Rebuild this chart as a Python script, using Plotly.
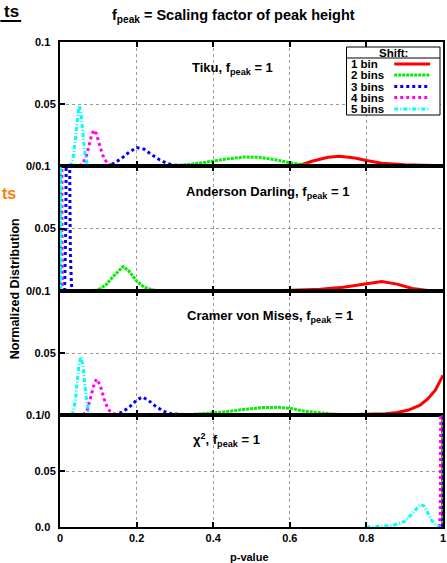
import plotly.graph_objects as go
from plotly.subplots import make_subplots

# ---------------- data ----------------
series_names = ["1 bin", "2 bins", "3 bins", "4 bins", "5 bins"]
colors = ["#ff0000", "#00ee00", "#0000ff", "#ff00ff", "#00ffff"]
dashes = ["solid", "3px,1px", "dot", "dot", "4px,2px,1px,2px"]
panel_titles = ["Tiku, f<sub>peak</sub> = 1",
                "Anderson Darling, f<sub>peak</sub> = 1",
                "Cramer von Mises, f<sub>peak</sub> = 1",
                "\u03c7<sup>2</sup>, f<sub>peak</sub> = 1"]
x_ticks = [0, 0.2, 0.4, 0.6, 0.8, 1]
x_tick_labels = ["0", "0.2", "0.4", "0.6", "0.8", "1"]

# Tiku
tiku_x = [
    [0.6, 0.63, 0.66, 0.7, 0.73, 0.77, 0.8, 0.84, 0.9, 0.95, 1.0],
    [0.28, 0.33, 0.38, 0.43, 0.48, 0.52, 0.56, 0.6, 0.64, 0.68],
    [0.12, 0.14, 0.16, 0.18, 0.2, 0.22, 0.24, 0.26, 0.28, 0.3, 0.33],
    [0.05, 0.06, 0.07, 0.08, 0.088, 0.095, 0.105, 0.115, 0.125, 0.14],
    [0.025, 0.03, 0.035, 0.04, 0.045, 0.05, 0.055, 0.06, 0.065, 0.07, 0.075, 0.08],
]
tiku_y = [
    [0, 0.001, 0.004, 0.007, 0.0078, 0.0065, 0.0045, 0.0022, 0.001, 0.0005, 0.0002],
    [0, 0.001, 0.003, 0.0055, 0.0072, 0.007, 0.0052, 0.0026, 0.0008, 0],
    [0, 0.002, 0.006, 0.011, 0.0148, 0.0135, 0.009, 0.005, 0.002, 0.0007, 0],
    [0, 0.002, 0.009, 0.022, 0.029, 0.026, 0.015, 0.006, 0.002, 0],
    [0, 0.002, 0.008, 0.022, 0.04, 0.049, 0.042, 0.025, 0.01, 0.003, 0.0005, 0],
]

# Anderson Darling
ad_x = [
    [0.55, 0.62, 0.68, 0.74, 0.8, 0.84, 0.88, 0.92, 0.96, 1.0],
    [0.08, 0.1, 0.12, 0.14, 0.165, 0.18, 0.2, 0.22, 0.24, 0.26],
    [0.012, 0.015, 0.018, 0.021, 0.024, 0.027, 0.03, 0.033],
    [0.001, 0.002, 0.003, 0.004, 0.005, 0.006],
    [0.0, 0.0005, 0.001, 0.0015, 0.002],
]
ad_y = [
    [0, 0.0005, 0.0015, 0.003, 0.0058, 0.0075, 0.0055, 0.002, 0.0004, 0],
    [0, 0.001, 0.005, 0.012, 0.0195, 0.016, 0.008, 0.003, 0.001, 0],
    [0, 0.05, 0.2, 0.25, 0.15, 0.03, 0.005, 0],
    [0, 0.3, 0.5, 0.4, 0.05, 0],
    [0, 0.5, 0.6, 0.3, 0],
]

# Cramer von Mises
cvm_x = [
    [0.72, 0.8, 0.85, 0.88, 0.91, 0.94, 0.96, 0.98, 0.99, 1.0],
    [0.33, 0.38, 0.43, 0.48, 0.53, 0.57, 0.6, 0.64, 0.68, 0.72, 0.77],
    [0.14, 0.16, 0.18, 0.2, 0.215, 0.23, 0.25, 0.27, 0.29, 0.32, 0.35],
    [0.06, 0.07, 0.08, 0.09, 0.096, 0.105, 0.115, 0.125, 0.135, 0.15],
    [0.03, 0.035, 0.04, 0.045, 0.05, 0.055, 0.06, 0.065, 0.07, 0.075, 0.085],
]
cvm_y = [
    [0, 0.0003, 0.001, 0.002, 0.004, 0.008, 0.013, 0.02, 0.026, 0.032],
    [0, 0.001, 0.0025, 0.0045, 0.006, 0.0062, 0.0054, 0.003, 0.0015, 0.0006, 0],
    [0, 0.002, 0.006, 0.012, 0.0145, 0.012, 0.007, 0.003, 0.001, 0.0002, 0],
    [0, 0.003, 0.014, 0.026, 0.029, 0.024, 0.013, 0.005, 0.0015, 0],
    [0, 0.003, 0.012, 0.028, 0.042, 0.047, 0.04, 0.024, 0.01, 0.003, 0],
]

# chi-square
chi_x = [
    [0.999, 1.0],
    [0.999, 1.0],
    [0.999, 1.0],
    [0.99, 0.993, 0.995, 0.997, 1.0],
    [0.8, 0.84, 0.87, 0.9, 0.92, 0.94, 0.95, 0.96, 0.97, 0.98, 0.99],
]
chi_y = [
    [0, 0.5],
    [0, 0.5],
    [0, 0.5],
    [0, 0.01, 0.2, 0.4, 0.5],
    [0, 0.0005, 0.0015, 0.005, 0.012, 0.02, 0.019, 0.013, 0.006, 0.002, 0.0005],
]

panels_x = [tiku_x, ad_x, cvm_x, chi_x]
panels_y = [tiku_y, ad_y, cvm_y, chi_y]

# ---------------- figure ----------------
W, H = 447, 563
ML, MR, MT, MB = 60, 2, 42, 36
fig = make_subplots(rows=4, cols=1, shared_xaxes=True, vertical_spacing=0,
                    row_heights=[124, 125, 124, 112])

for r in range(4):
    for k in range(5):
        fig.add_trace(go.Scatter(
            x=panels_x[r][k], y=panels_y[r][k], mode="lines",
            line=dict(color=colors[k], width=3, dash=dashes[k]),
            showlegend=False, name=series_names[k]), row=r + 1, col=1)

FONT = "Liberation Sans"
tickfont = dict(family=FONT, size=11, color="black", weight="bold")

for r in range(1, 5):
    fig.update_yaxes(range=[0, 0.1], tickvals=[0.05], ticktext=["0.05"],
                     showline=True, mirror=True, linewidth=2, linecolor="black",
                     ticks="inside", ticklen=5, tickwidth=2, tickcolor="black",
                     showgrid=True, gridcolor="#999999", griddash="dot", gridwidth=1,
                     zeroline=False, tickfont=tickfont, row=r, col=1)
    fig.update_xaxes(range=[0, 1], tickvals=x_ticks, ticktext=x_tick_labels,
                     showline=True, mirror="allticks", linewidth=2, linecolor="black",
                     ticks="inside", ticklen=5, tickwidth=2, tickcolor="black",
                     showgrid=True, gridcolor="#999999", griddash="dot", gridwidth=1,
                     zeroline=False, tickfont=tickfont,
                     showticklabels=(r == 4), row=r, col=1)


def px(xp):
    return (xp - ML) / (W - ML - MR)


def py(yp):
    return (H - MB - yp) / (H - MT - MB)


ann = []
# boundary labels on the y axis
for lab, yp in [("0.1", 42), ("0/0.1", 166), ("0/0.1", 291), ("0.1/0", 415), ("0.0", 527)]:
    ann.append(dict(text=lab, x=px(52), y=py(yp), xref="paper", yref="paper",
                    xanchor="right", yanchor="middle", showarrow=False, font=tickfont))

# panel titles (right edges)
ptf = dict(family=FONT, size=13, color="black", weight="bold")
for t, (rx, cy) in zip(panel_titles, [(276, 68), (353, 192), (357, 316), (263, 440)]):
    ann.append(dict(text=t, x=px(rx), y=py(cy), xref="paper", yref="paper",
                    xanchor="right", yanchor="middle", showarrow=False, font=ptf))

# main title
ann.append(dict(text="f<sub>peak</sub> = Scaling factor of peak height", x=px(234), y=py(16),
                xref="paper", yref="paper", xanchor="center", yanchor="middle",
                showarrow=False, font=dict(family=FONT, size=14.5, color="black", weight="bold")))
# axis titles
ann.append(dict(text="Normalized Distribution", x=px(15), y=py(289), xref="paper", yref="paper",
                textangle=-90, xanchor="center", yanchor="middle", showarrow=False,
                font=dict(family=FONT, size=12.5, color="black", weight="bold")))
ann.append(dict(text="p-value", x=px(250), y=py(557), xref="paper", yref="paper",
                xanchor="center", yanchor="middle", showarrow=False,
                font=dict(family=FONT, size=11, color="black", weight="bold")))
# texts at the left edge
ann.append(dict(text="ts", x=px(21), y=py(11), xref="paper", yref="paper",
                xanchor="right", yanchor="middle", showarrow=False,
                font=dict(family=FONT, size=17, color="black", weight="bold")))
ann.append(dict(text="ts", x=px(0), y=py(193), xref="paper", yref="paper",
                xanchor="left", yanchor="middle", showarrow=False,
                font=dict(family=FONT, size=16, color="#ff8000", weight="bold")))

shapes = [dict(type="line", xref="paper", yref="paper", x0=px(0), x1=px(21),
               y0=py(21), y1=py(21), line=dict(color="black", width=2))]

# custom legend
lf = dict(family=FONT, size=11.5, color="black", weight="bold")
shapes.append(dict(type="rect", xref="paper", yref="paper", x0=px(348), x1=px(442),
                   y0=py(115), y1=py(47), line=dict(color="black", width=1), fillcolor="white"))
shapes.append(dict(type="line", xref="paper", yref="paper", x0=px(348), x1=px(442),
                   y0=py(58), y1=py(58), line=dict(color="black", width=1)))
ann.append(dict(text="Shift:", x=px(395), y=py(52.5), xref="paper", yref="paper",
                xanchor="center", yanchor="middle", showarrow=False, font=lf))
for k, yp in enumerate([64, 75, 86.5, 97.5, 109]):
    ann.append(dict(text=series_names[k], x=px(351), y=py(yp), xref="paper", yref="paper",
                    xanchor="left", yanchor="middle", showarrow=False, font=lf))
    shapes.append(dict(type="line", xref="paper", yref="paper", x0=px(396), x1=px(432),
                       y0=py(yp), y1=py(yp), line=dict(color=colors[k], width=3, dash=dashes[k])))

fig.update_layout(width=W, height=H, margin=dict(l=ML, r=MR, t=MT, b=MB),
                  plot_bgcolor="white", paper_bgcolor="white",
                  annotations=ann, shapes=shapes, showlegend=False,
                  font=dict(family=FONT))

fig.write_html("out.html")
